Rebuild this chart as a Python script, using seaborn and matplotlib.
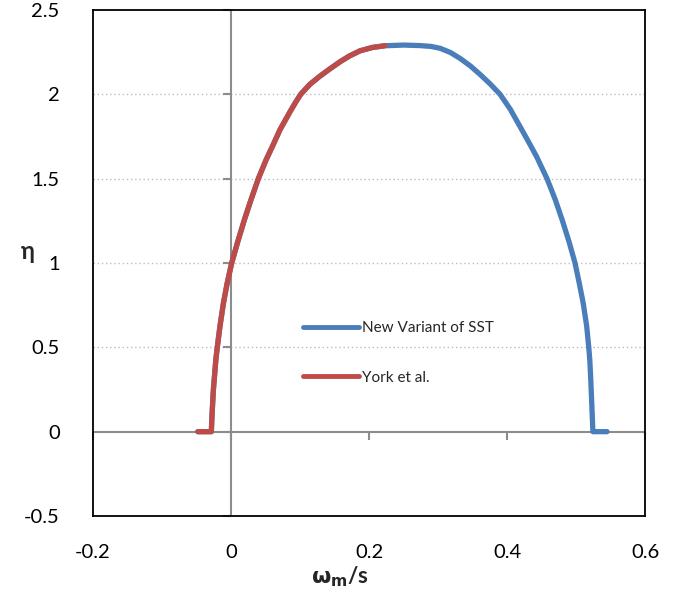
import numpy as np
import pandas as pd
import matplotlib
matplotlib.use("Agg")
import matplotlib.pyplot as plt
import seaborn as sns

# Data
sst_x = [0.545, 0.5245, 0.523, 0.5215, 0.520, 0.5185, 0.5155, 0.5105, 0.505, 0.4986,
         0.490, 0.480, 0.470, 0.458, 0.443, 0.431, 0.419, 0.405, 0.390, 0.376, 0.361,
         0.347, 0.332, 0.318, 0.303, 0.290, 0.274, 0.25, 0.223, 0.205, 0.187, 0.172,
         0.158, 0.143, 0.128, 0.114, 0.101, 0.0935, 0.086, 0.071, 0.061, 0.0507,
         0.0396, 0.029, 0.0193, 0.0097, 0.001, -0.0058, -0.011, -0.016, -0.0199,
         -0.022, -0.0255, -0.0275, -0.0285, -0.048]
sst_y = [0.0, 0.0, 0.15, 0.3, 0.425, 0.5, 0.625, 0.761, 0.875, 1.0,
         1.125, 1.255, 1.375, 1.5, 1.63, 1.72, 1.808, 1.91, 2.0, 2.06, 2.118,
         2.168, 2.213, 2.248, 2.273, 2.284, 2.289, 2.292, 2.288, 2.278, 2.258, 2.228,
         2.193, 2.15, 2.105, 2.058, 2.0, 1.952, 1.9, 1.79, 1.7, 1.61,
         1.5, 1.375, 1.255, 1.125, 1.0, 0.875, 0.761, 0.625, 0.5,
         0.425, 0.25, 0.1, 0.0, 0.0]
york_x = [-0.048, -0.0285, -0.0275, -0.0255, -0.022, -0.0199, -0.016, -0.011, -0.0058,
          0.001, 0.0097, 0.0193, 0.029, 0.0396, 0.0507, 0.061, 0.071, 0.086, 0.0935,
          0.101, 0.114, 0.128, 0.143, 0.158, 0.172, 0.187, 0.205, 0.223]
york_y = [0.0, 0.0, 0.1, 0.25, 0.425, 0.5, 0.625, 0.761, 0.875,
          1.0, 1.125, 1.255, 1.375, 1.5, 1.61, 1.7, 1.79, 1.9, 1.952,
          2.0, 2.058, 2.105, 2.15, 2.193, 2.228, 2.258, 2.278, 2.288]
series_names = ["New Variant of SST", "York et al."]
x_ticks = [-0.2, 0.0, 0.2, 0.4, 0.6]
x_tick_labels = ["-0.2", "0", "0.2", "0.4", "0.6"]
y_ticks = [-0.5, 0.0, 0.5, 1.0, 1.5, 2.0, 2.5]
y_tick_labels = ["-0.5", "0", "0.5", "1", "1.5", "2", "2.5"]

df = pd.concat([
    pd.DataFrame({"x": sst_x, "y": sst_y, "series": series_names[0]}),
    pd.DataFrame({"x": york_x, "y": york_y, "series": series_names[1]}),
], ignore_index=True)

sns.set_style("white")
plt.rcParams["font.family"] = ["Lato", "DejaVu Sans"]

fig = plt.figure(figsize=(6.86, 5.94), dpi=100)
ax = fig.add_axes([93/686, 78/594, 552/686, 506/594])

ax.set_xlim(-0.2, 0.6)
ax.set_ylim(-0.5, 2.5)

# gridlines
for yv in y_ticks:
    if -0.5 < yv < 2.5 and yv != 0:
        ax.axhline(yv, color="#bdbdbd", lw=1.0, ls=(0, (1, 2)), zorder=0)
ax.axhline(0, color="#8c8c8c", lw=1.5, zorder=1)
ax.axvline(0, color="#8c8c8c", lw=1.5, zorder=1)

# tick marks on the zero lines
ax.plot(x_ticks, [0]*len(x_ticks), ls="none", marker=3, ms=6, mew=1.5,
        color="#8c8c8c", zorder=1, clip_on=False)
ax.plot([0]*len(y_ticks), y_ticks, ls="none", marker=0, ms=6, mew=1.5,
        color="#8c8c8c", zorder=1, clip_on=False)

sns.lineplot(data=df, x="x", y="y", hue="series", sort=False, estimator=None,
             units="series",
             palette={series_names[0]: "#4a7ebb", series_names[1]: "#be4b48"},
             lw=3.8, ax=ax, zorder=3)

for line in ax.get_lines():
    line.set_solid_capstyle("round")
    line.set_solid_joinstyle("round")

ax.set_xticks(x_ticks)
ax.set_xticklabels(x_tick_labels)
ax.set_yticks(y_ticks)
ax.set_yticklabels(y_tick_labels)
ax.tick_params(axis="x", length=0, pad=20, labelsize=14.5, colors="black")
ax.tick_params(axis="y", length=0, pad=24, labelsize=14.5, colors="black")

for s in ax.spines.values():
    s.set_color("black")
    s.set_linewidth(1.3)

ax.set_xlabel(r"$\mathbf{\omega_m}$/s", fontsize=16, fontweight="bold")
ax.xaxis.set_label_coords(0.448, -0.095)
ax.set_ylabel("η", fontsize=17, fontweight="bold", rotation=0)
ax.yaxis.set_label_coords(-0.118, 0.5)

leg = ax.legend(loc="center left", bbox_to_anchor=(0.380, 0.322), frameon=False,
                fontsize=11, handlelength=3.7, handletextpad=0.2,
                labelspacing=2.3, borderpad=0, borderaxespad=0)
for h in leg.get_lines():
    h.set_linewidth(3.5)
    h.set_solid_capstyle("round")

fig.savefig("out.png", dpi=100)
